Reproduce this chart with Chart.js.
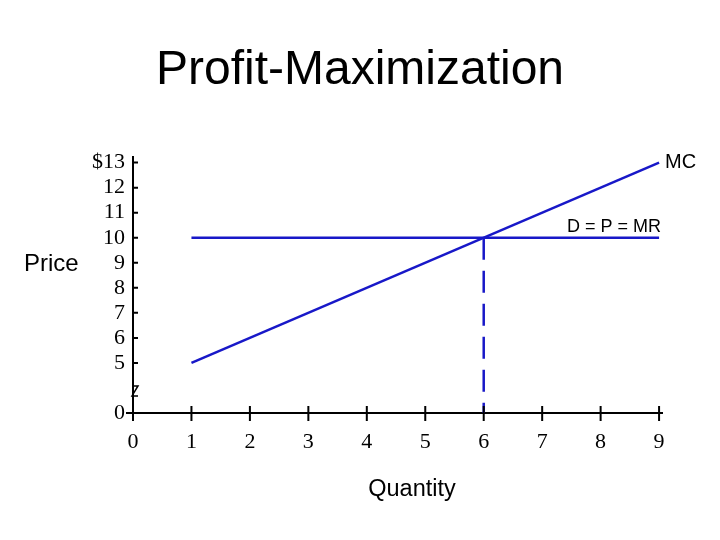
<!DOCTYPE html>
<html>
<head>
<meta charset="utf-8">
<script src="https://cdn.jsdelivr.net/npm/chart.js@4.4.0/dist/chart.umd.min.js"></script>
<style>
html, body { margin: 0; padding: 0; background: #fff; }
</style>
</head>
<body>
<canvas id="chart" width="720" height="540"></canvas>
<script>
var mcQty = [1, 9];
var mcPrice = [5, 13];
var mrQty = [1, 9];
var mrPrice = [10, 10];
var optQty = [6, 6];
var optPrice = [10, 0];
var xTicks = [0, 1, 2, 3, 4, 5, 6, 7, 8, 9];
var yTicks = [0, 5, 6, 7, 8, 9, 10, 11, 12, 13];
var yTickLabels = ['0', '5', '6', '7', '8', '9', '10', '11', '12', '$13'];

var blue = '#1818c8';
var sans = '"Liberation Sans", Arial, sans-serif';
var serif = '"Liberation Serif", "Times New Roman", serif';

// price axis is broken between 0 and 5, the 0 sits where 3 would be
function axisY(v) { return v >= 5 ? v : 3 + v * 0.4; }

function points(xs, ys) {
    return xs.map(function (x, i) { return { x: x, y: axisY(ys[i]) }; });
}

var decor = {
    id: 'decor',
    afterDraw: function (chart) {
        var ctx = chart.ctx, sx = chart.scales.x, sy = chart.scales.y;
        var x0 = sx.getPixelForValue(0), y0 = sy.getPixelForValue(axisY(0));
        ctx.save();
        ctx.strokeStyle = '#000';
        ctx.lineWidth = 2;
        ctx.beginPath();
        ctx.moveTo(x0 - 7, y0); ctx.lineTo(x0, y0);
        xTicks.forEach(function (t) {
            var px = sx.getPixelForValue(t);
            ctx.moveTo(px, t === 0 ? y0 : y0 - 7);
            ctx.lineTo(px, y0 + 8);
        });
        yTicks.forEach(function (t) {
            if (t === 0) return;
            var py = sy.getPixelForValue(axisY(t));
            ctx.moveTo(x0, py);
            ctx.lineTo(x0 + 5, py);
        });
        ctx.stroke();

        // axis break mark
        var yb = sy.getPixelForValue(3.88);
        ctx.lineWidth = 1.5;
        ctx.beginPath();
        ctx.moveTo(x0 - 1, yb - 5);
        ctx.lineTo(x0 + 5, yb - 5);
        ctx.lineTo(x0 - 1, yb + 5);
        ctx.lineTo(x0 + 5, yb + 5);
        ctx.stroke();

        ctx.fillStyle = '#000';
        ctx.textBaseline = 'middle';
        ctx.textAlign = 'left';
        ctx.font = '24px ' + sans;
        ctx.fillText('Price', 24, 264);

        ctx.textAlign = 'center';
        ctx.font = '23.5px ' + sans;
        ctx.fillText('Quantity', 412, 490);

        ctx.textAlign = 'left';
        ctx.font = '20px ' + sans;
        ctx.fillText('MC', sx.getPixelForValue(mcQty[1]) + 6, sy.getPixelForValue(mcPrice[1]));

        ctx.font = '18px ' + sans;
        ctx.textAlign = 'right';
        ctx.fillText('D = P = MR', sx.getPixelForValue(mrQty[1]) + 2, sy.getPixelForValue(mrPrice[1]) - 11);
        ctx.restore();
    }
};

var ctx = document.getElementById('chart');
var chart = new Chart(ctx, {
    type: 'scatter',
    data: {
        datasets: [
            {
                label: 'MC',
                data: points(mcQty, mcPrice),
                showLine: true,
                borderColor: blue,
                borderWidth: 2.5,
                pointRadius: 0
            },
            {
                label: 'D = P = MR',
                data: points(mrQty, mrPrice),
                showLine: true,
                borderColor: blue,
                borderWidth: 2.5,
                pointRadius: 0
            },
            {
                label: 'Q*',
                data: points(optQty, optPrice),
                showLine: true,
                borderColor: blue,
                borderWidth: 2.5,
                borderDash: [22, 11],
                pointRadius: 0
            }
        ]
    },
    options: {
        responsive: false,
        animation: false,
        layout: { padding: 0 },
        plugins: {
            legend: { display: false },
            tooltip: { enabled: false },
            title: {
                display: true,
                text: 'Profit-Maximization',
                color: '#000',
                font: { family: sans, size: 48, weight: 'normal' },
                padding: { top: 42, bottom: 57 }
            }
        },
        scales: {
            x: {
                type: 'linear',
                min: 0,
                max: 9.05,
                afterBuildTicks: function (scale) {
                    scale.ticks = xTicks.map(function (v) { return { value: v }; });
                },
                afterFit: function (scale) { scale.height = 127; },
                grid: { display: true, drawOnChartArea: false, drawTicks: false },
                border: { display: true, color: '#000', width: 2 },
                ticks: {
                    color: '#000',
                    padding: 16,
                    autoSkip: false,
                    maxRotation: 0,
                    font: { family: serif, size: 22 },
                    callback: function (v) { return String(v); }
                }
            },
            y: {
                type: 'linear',
                min: 3,
                max: 13.24,
                afterBuildTicks: function (scale) {
                    scale.ticks = yTicks.map(function (v) { return { value: axisY(v) }; });
                },
                afterFit: function (scale) { scale.width = 133; },
                grid: { display: true, drawOnChartArea: false, drawTicks: false },
                border: { display: true, color: '#000', width: 2 },
                ticks: {
                    color: '#000',
                    padding: 8,
                    autoSkip: false,
                    font: { family: serif, size: 22 },
                    callback: function (v) {
                        for (var i = 0; i < yTicks.length; i++) {
                            if (Math.abs(axisY(yTicks[i]) - v) < 1e-6) return yTickLabels[i];
                        }
                        return '';
                    }
                }
            },
            // empty right margin, keeps the title centred on the page
            side: {
                type: 'linear',
                position: 'right',
                afterFit: function (scale) { scale.width = 58; },
                grid: { display: false },
                border: { display: false },
                ticks: { display: false }
            }
        }
    },
    plugins: [decor]
});
</script>
</body>
</html>
